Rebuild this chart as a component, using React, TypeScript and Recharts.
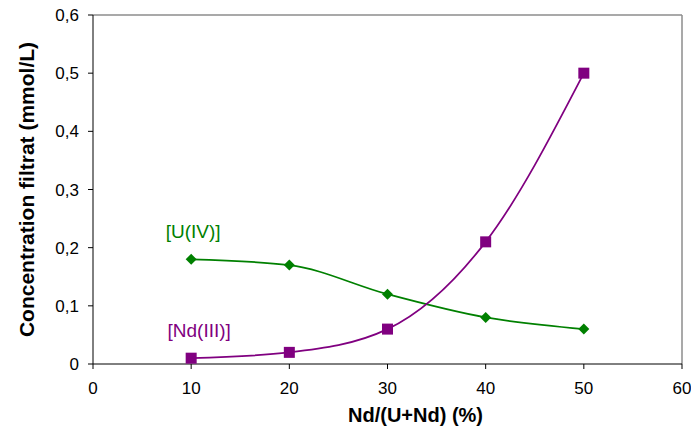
import React from 'react';
import { LineChart, Line, XAxis, YAxis, ReferenceLine, ReferenceDot } from 'recharts';

const ratios = [10, 20, 30, 40, 50];
const uIV = [0.18, 0.17, 0.12, 0.08, 0.06];
const ndIII = [0.01, 0.02, 0.06, 0.21, 0.5];
const xTicks = [0, 10, 20, 30, 40, 50, 60];
const yTicks = [0, 0.1, 0.2, 0.3, 0.4, 0.5, 0.6];

const data = ratios.map((r, i) => ({ x: r, u: uIV[i], nd: ndIII[i] }));

const GREEN = '#008000';
const PURPLE = '#800080';
const FONT = '"Liberation Sans", Arial, sans-serif';

const Diamond = (props: any) => {
  const { cx, cy } = props;
  if (cx == null || cy == null) return null;
  const s = 5.5;
  return <path d={`M${cx},${cy - s}L${cx + s},${cy}L${cx},${cy + s}L${cx - s},${cy}Z`} fill={GREEN} stroke="none" />;
};

const Square = (props: any) => {
  const { cx, cy } = props;
  if (cx == null || cy == null) return null;
  const s = 5.5;
  return <rect x={cx - s} y={cy - s} width={2 * s} height={2 * s} fill={PURPLE} stroke="none" />;
};

const fmtY = (v: number) => (v === 0 ? '0' : v.toFixed(1).replace('.', ','));

const makeLabel = (text: string, color: string, dx: number, dy: number) => (props: any) => {
  const vb = props.viewBox || {};
  const cx = vb.x + (vb.width || 0) / 2;
  const cy = vb.y + (vb.height || 0) / 2;
  return (
    <text x={cx + dx} y={cy + dy} fill={color} fontSize={19} fontFamily={FONT} textAnchor="middle">
      {text}
    </text>
  );
};

const XTitle = (props: any) => {
  const vb = props.viewBox || {};
  const cx = vb.x + (vb.width || 0) / 2;
  return (
    <text x={cx + 28} y={422} fill="#000" fontSize={20} fontWeight="bold" fontFamily={FONT} textAnchor="middle">
      Nd/(U+Nd) (%)
    </text>
  );
};

export default function App() {
  return (
    <div style={{ position: 'absolute', left: 0, top: 0, width: 691, height: 427, background: '#fff' }}>
      <LineChart width={691} height={427} data={data} margin={{ top: 15, right: 9, bottom: 0, left: 0 }}>
        <XAxis
          dataKey="x"
          type="number"
          domain={[0, 60]}
          ticks={xTicks}
          tickSize={5}
          tickMargin={13}
          stroke="#000"
          tick={{ fill: '#000', fontSize: 17, fontFamily: FONT }}
          tickLine={{ stroke: '#000' }}
          axisLine={{ stroke: '#000' }}
          height={63}
          label={<XTitle />}
        />
        <YAxis
          type="number"
          domain={[0, 0.6]}
          ticks={yTicks}
          tickFormatter={fmtY}
          tickSize={5}
          tickMargin={9}
          width={93}
          stroke="#000"
          tick={{ fill: '#000', fontSize: 17, fontFamily: FONT }}
          tickLine={{ stroke: '#000' }}
          axisLine={{ stroke: '#000' }}
          label={{ value: 'Concentration filtrat (mmol/L)', angle: -90, position: 'insideLeft', offset: 27, style: { textAnchor: 'middle' }, fill: '#000', fontSize: 21, fontWeight: 'bold', fontFamily: FONT }}
        />
        <ReferenceLine y={0.6} stroke="#8c8c8c" strokeWidth={1.5} ifOverflow="visible" />
        <ReferenceLine x={60} stroke="#8c8c8c" strokeWidth={1.5} ifOverflow="visible" />
        <Line
          type="monotone"
          dataKey="u"
          stroke={GREEN}
          strokeWidth={1.75}
          dot={<Diamond />}
          activeDot={false}
          isAnimationActive={false}
        />
        <Line
          type="monotone"
          dataKey="nd"
          stroke={PURPLE}
          strokeWidth={1.75}
          dot={<Square />}
          activeDot={false}
          isAnimationActive={false}
        />
        <ReferenceDot x={ratios[0]} y={uIV[0]} r={0} fill="none" stroke="none" label={makeLabel('[U(IV)]', GREEN, 2, -21)} />
        <ReferenceDot x={ratios[0]} y={ndIII[0]} r={0} fill="none" stroke="none" label={makeLabel('[Nd(III)]', PURPLE, 8, -21)} />
      </LineChart>
    </div>
  );
}
